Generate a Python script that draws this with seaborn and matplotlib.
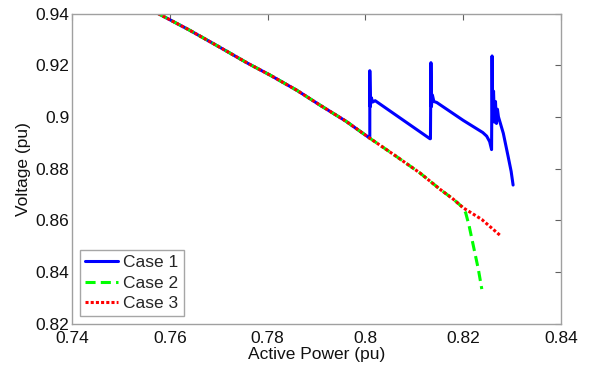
import matplotlib
matplotlib.use("Agg")
import matplotlib.pyplot as plt
import seaborn as sns

# Shared P-V trajectory (cases 2 and 3 up to the nose region)
p_common = [0.7576, 0.7640, 0.7700, 0.7760, 0.7805, 0.7860, 0.7907, 0.7960,
            0.8009, 0.8060, 0.8112, 0.8153, 0.8180, 0.8200]
v_common = [0.9400, 0.9336, 0.9272, 0.9207, 0.9162, 0.9103, 0.9046, 0.8984,
            0.8918, 0.8852, 0.8783, 0.8720, 0.8682, 0.8649]

# Case 1: tap-changer recovery steps
p_case1 = [0.8009, 0.8009, 0.8010, 0.8012, 0.8015, 0.8020, 0.8132,
           0.8133, 0.8134, 0.8135, 0.8137, 0.8140, 0.8146, 0.8200, 0.8240, 0.8248, 0.8254, 0.8258,
           0.8259, 0.8260, 0.8262, 0.8264, 0.8266, 0.8268, 0.8270, 0.8272,
           0.8282, 0.8292, 0.8298, 0.8302]
v_case1 = [0.8918, 0.9179, 0.9040, 0.9075, 0.9058, 0.9063, 0.8916,
           0.8916, 0.9210, 0.9040, 0.9085, 0.9060, 0.9056, 0.8987, 0.8940, 0.8926, 0.8905, 0.8874,
           0.9236, 0.9000, 0.9100, 0.8980, 0.9060, 0.8975, 0.9030, 0.9001,
           0.8937, 0.8846, 0.8790, 0.8737]

# Case 2: voltage collapse branch
p_case2 = [0.8205, 0.8212, 0.8221, 0.8231, 0.8238]
v_case2 = [0.8630, 0.8580, 0.8500, 0.8411, 0.8335]

# Case 3: continued branch
p_case3 = [0.8238, 0.8277]
v_case3 = [0.8604, 0.8540]

case1_x = p_common[:9] + p_case1
case1_y = v_common[:9] + v_case1
case2_x = p_common + p_case2
case2_y = v_common + v_case2
case3_x = p_common + p_case3
case3_y = v_common + v_case3

sns.set_style("white")
plt.rcParams["font.family"] = ["Liberation Sans", "DejaVu Sans"]

fig = plt.figure(figsize=(5.89, 3.71), dpi=100)
ax = fig.add_axes([0.1222, 0.1267, 0.8303, 0.8369])

lw = 2.2
sns.lineplot(x=case1_x, y=case1_y, sort=False, estimator=None, ax=ax,
             color=(0, 0, 1), linewidth=lw, label="Case 1")
sns.lineplot(x=case2_x, y=case2_y, sort=False, estimator=None, ax=ax,
             color=(0, 1, 0), linewidth=lw, label="Case 2")
sns.lineplot(x=case3_x, y=case3_y, sort=False, estimator=None, ax=ax,
             color=(1, 0, 0), linewidth=lw, label="Case 3")
ax.lines[1].set_dashes([3.3, 1.7])
ax.lines[2].set_dashes([1.0, 0.7])

ax.set_xlim(0.74, 0.84)
ax.set_ylim(0.82, 0.94)
ax.set_xticks([0.74, 0.76, 0.78, 0.80, 0.82, 0.84])
ax.set_xticklabels(["0.74", "0.76", "0.78", "0.8", "0.82", "0.84"])
ax.set_yticks([0.82, 0.84, 0.86, 0.88, 0.90, 0.92, 0.94])
ax.set_yticklabels(["0.82", "0.84", "0.86", "0.88", "0.9", "0.92", "0.94"])

for s in ax.spines.values():
    s.set_visible(True)
    s.set_color("#a0a0a0")
    s.set_linewidth(1.0)
ax.tick_params(direction="in", length=4, width=0.8, color="#606060",
               top=True, right=True, labelsize=12.5, labelcolor="#111111")
ax.tick_params(axis="x", pad=5)
ax.tick_params(axis="y", pad=2)

ax.set_xlabel("Active Power (pu)", fontsize=12.5, color="#111111", labelpad=1)
ax.set_ylabel("Voltage (pu)", fontsize=12.5, color="#111111", labelpad=3)

leg = ax.legend(loc="lower left", fontsize=12.5, frameon=True, fancybox=False,
                handlelength=1.9, handletextpad=0.3, borderpad=0.3,
                labelspacing=0.3, borderaxespad=0.45)
leg.get_frame().set_edgecolor("#909090")
leg.get_frame().set_linewidth(1.0)

fig.savefig("out.png", dpi=100)
